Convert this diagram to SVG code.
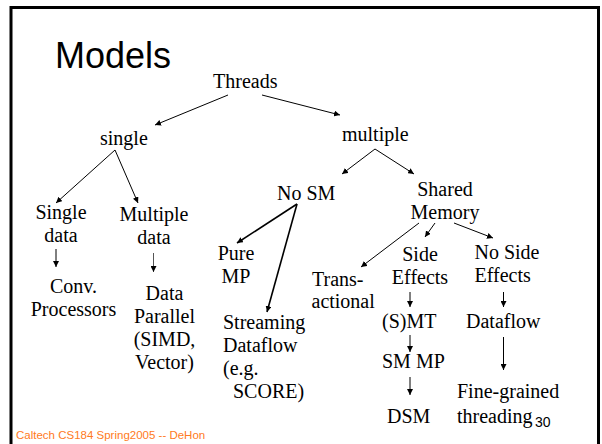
<svg xmlns="http://www.w3.org/2000/svg" width="602" height="444" viewBox="0 0 602 444">
<defs>
<marker id="ah" viewBox="0 0 10 10" refX="10" refY="5" markerWidth="6" markerHeight="6" markerUnits="userSpaceOnUse" orient="auto">
<path d="M0,0 L10,5 L0,10 z" fill="#000"/>
</marker>
<style>
.t{font-size:20px;fill:#000}
.m{text-anchor:middle}
.c{fill:none;stroke:#000;stroke-width:1;marker-end:url(#ah)}
.b{stroke-width:1.6}
.g{stroke:#555}
</style>
</defs>
<rect width="602" height="444" fill="#fff"/>
<path d="M11,444 V7.5 H598.5 V444" fill="none" stroke="#000" stroke-width="3"/>
<text x="55" y="68" font-family="Liberation Sans, Arial, sans-serif" font-size="36">Models</text>
<text x="16" y="439" font-family="Liberation Sans, Arial, sans-serif" font-size="11.5" fill="#FF7A22">Caltech CS184 Spring2005 -- DeHon</text>
<text x="535" y="427" font-family="Liberation Sans, Arial, sans-serif" font-size="14">30</text>

<g font-family="Liberation Serif, Times New Roman, DejaVu Serif, serif">
<g id="threads"><text class="t" x="213" y="88">Threads</text></g>
<g id="single"><text class="t" x="100" y="145">single</text></g>
<g id="multiple"><text class="t" x="342" y="141">multiple</text></g>
<g id="single-data"><text class="t m" x="61" y="219">Single</text><text class="t m" x="61" y="242">data</text></g>
<g id="multiple-data"><text class="t m" x="154" y="221">Multiple</text><text class="t m" x="154" y="244">data</text></g>
<g id="conv"><text class="t m" x="73.5" y="293">Conv.</text><text class="t m" x="73.5" y="316">Processors</text></g>
<g id="data-parallel"><text class="t m" x="164.5" y="300">Data</text><text class="t m" x="164.5" y="323">Parallel</text><text class="t m" x="164.5" y="346">(SIMD,</text><text class="t m" x="164.5" y="369">Vector)</text></g>
<g id="no-sm"><text class="t" x="277" y="200">No SM</text></g>
<g id="shared-memory"><text class="t m" x="445" y="196">Shared</text><text class="t m" x="445" y="219">Memory</text></g>
<g id="pure-mp"><text class="t m" x="236" y="260">Pure</text><text class="t m" x="236" y="283">MP</text></g>
<g id="streaming"><text class="t" x="223" y="329">Streaming</text><text class="t" x="223" y="352">Dataflow</text><text class="t" x="223" y="375">(e.g.</text><text class="t" x="233" y="398">SCORE)</text></g>
<g id="transactional"><text class="t" x="312" y="286">Trans-</text><text class="t" x="311.5" y="308">actional</text></g>
<g id="side-effects"><text class="t m" x="420" y="261">Side</text><text class="t m" x="420" y="283.5">Effects</text></g>
<g id="no-side-effects"><text class="t" x="474.5" y="258.5">No Side</text><text class="t" x="474.5" y="281.5">Effects</text></g>
<g id="smt"><text class="t" x="382" y="328">(S)MT</text></g>
<g id="sm-mp"><text class="t" x="382" y="368">SM MP</text></g>
<g id="dsm"><text class="t" x="387" y="423">DSM</text></g>
<g id="dataflow"><text class="t" x="466" y="328">Dataflow</text></g>
<g id="fine-grained"><text class="t" x="457" y="398">Fine-grained</text><text class="t" x="457" y="423">threading</text></g>
</g>

<g id="connectors">
<line class="c" x1="228" y1="95" x2="155" y2="125"/>
<line class="c" x1="262" y1="95" x2="340" y2="115"/>
<line class="c" x1="115" y1="150" x2="56" y2="203"/>
<line class="c" x1="115" y1="150" x2="138" y2="203"/>
<line class="c" x1="375" y1="149" x2="342" y2="174"/>
<line class="c" x1="375" y1="149" x2="414" y2="174"/>
<line class="c b" x1="297" y1="204" x2="237" y2="243"/>
<line class="c b" x1="297" y1="204" x2="267" y2="312"/>
<line class="c" x1="419" y1="223" x2="361" y2="267"/>
<line class="c" x1="435" y1="223" x2="425" y2="237"/>
<line class="c" x1="454" y1="223" x2="493" y2="238"/>
<line class="c" x1="56" y1="249" x2="56" y2="267"/>
<line class="c g" x1="153.5" y1="253" x2="153.5" y2="272"/>
<line class="c" x1="410" y1="292" x2="410" y2="307"/>
<line class="c" x1="410" y1="335" x2="410" y2="352"/>
<line class="c" x1="410" y1="377" x2="410" y2="395"/>
<line class="c" x1="503.5" y1="292" x2="503.5" y2="307"/>
<line class="c" x1="503.5" y1="337" x2="503.5" y2="370"/>
</g>
</svg>
